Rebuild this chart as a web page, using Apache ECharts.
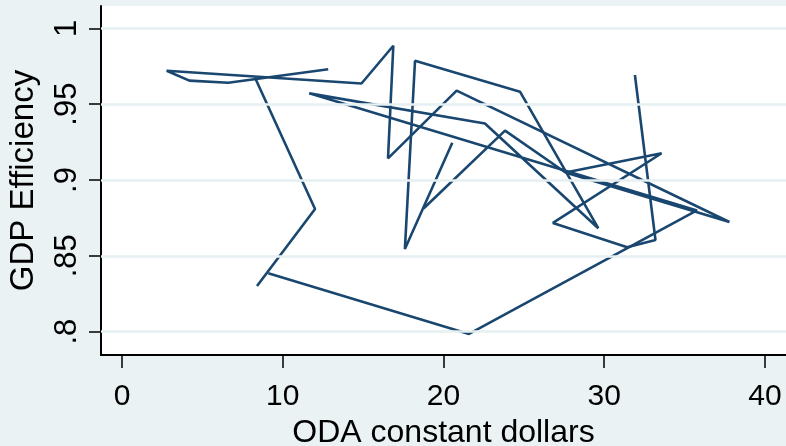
<!DOCTYPE html>
<html><head><meta charset="utf-8">
<script src="https://cdn.jsdelivr.net/npm/echarts@6/dist/echarts.min.js"></script>
<style>html,body{margin:0;padding:0;background:#eaf2f3}#c{width:786px;height:446px}</style>
</head><body><div id="c"></div>
<script>
// ODA (constant dollars) and GDP efficiency, null marks a break in the line
const oda = [12.83, 6.61, 4.19, 2.78, 14.90, 16.88, 16.55, 20.82, 37.79, 27.59, 33.57, 26.81, 31.43, 33.19, 31.91, null,
             8.27, 12.01, 8.40, null,
             9.10, 21.59, 35.77, 11.65, 22.58, 29.63, 24.76, 18.23, 17.60, 20.55, null,
             18.76, 23.83, 27.59];
const eff = [0.973, 0.9641, 0.9655, 0.972, 0.9636, 0.9885, 0.9142, 0.9589, 0.8723, 0.9049, 0.9176, 0.8717, 0.8556, 0.8604, 0.9692, null,
             0.9676, 0.8809, 0.8301, null,
             0.8385, 0.7985, 0.8799, 0.9571, 0.9372, 0.8682, 0.9582, 0.9786, 0.8545, 0.9246, null,
             0.8812, 0.9325, 0.9049];
const xTicks = [0, 10, 20, 30, 40];
const yTicks = [0.8, 0.85, 0.9, 0.95, 1];
const yTickLabels = ['.8', '.85', '.9', '.95', '1'];

const pieces = [];
let cur = [];
oda.forEach((x, i) => {
  if (x === null || eff[i] === null) { if (cur.length) pieces.push(cur); cur = []; }
  else cur.push([x, eff[i]]);
});
if (cur.length) pieces.push(cur);

const lineColor = '#1a476f';
const series = [{
  type: 'line', data: [], z: 1, silent: true,
  markLine: {
    silent: true, symbol: ['none', 'none'], label: {show: false},
    lineStyle: {type: 'solid', color: '#e6eff1', width: 2.5},
    data: yTicks.map(v => ({yAxis: v}))
  }
}];
pieces.forEach(p => series.push({
  type: 'line', data: p, showSymbol: false, symbol: 'none', z: 3, silent: true,
  lineStyle: {color: lineColor, width: 2.6}, animation: false
}));

const font = 'Liberation Sans, Arial, sans-serif';
const chart = echarts.init(document.getElementById('c'), null, {renderer: 'canvas'});
chart.setOption({
  animation: false,
  backgroundColor: '#eaf2f3',
  grid: {left: 101, right: 0, top: 6, bottom: 91, show: true, backgroundColor: '#ffffff', borderWidth: 0,
         containLabel: false, outerBoundsMode: 'none'},
  xAxis: {
    type: 'value', min: -1.306, max: 41.31,
    name: 'ODA constant dollars', nameLocation: 'middle', nameGap: 51,
    nameTextStyle: {fontFamily: font, fontSize: 32, color: '#000'},
    axisLine: {show: true, onZero: false, lineStyle: {color: '#000', width: 2}},
    axisTick: {show: true, length: 13, customValues: xTicks, lineStyle: {color: '#000', width: 1.5}},
    axisLabel: {customValues: xTicks, fontFamily: font, fontSize: 30, color: '#000', margin: 27},
    splitLine: {show: false}
  },
  yAxis: {
    type: 'value', min: 0.7846, max: 1.0147,
    name: 'GDP Efficiency', nameLocation: 'middle', nameGap: 61, nameRotate: 90,
    nameTextStyle: {fontFamily: font, fontSize: 33, color: '#000'},
    axisLine: {show: true, onZero: false, lineStyle: {color: '#000', width: 2}},
    axisTick: {show: true, length: 12, customValues: yTicks, lineStyle: {color: '#000', width: 1.5}},
    axisLabel: {customValues: yTicks, rotate: 90, fontFamily: font, fontSize: 31, color: '#000', margin: 18,
      formatter: v => { const i = yTicks.findIndex(t => Math.abs(t - v) < 1e-6); return i >= 0 ? yTickLabels[i] : ''; }},
    splitLine: {show: false}
  },
  series: series
});
</script></body></html>
